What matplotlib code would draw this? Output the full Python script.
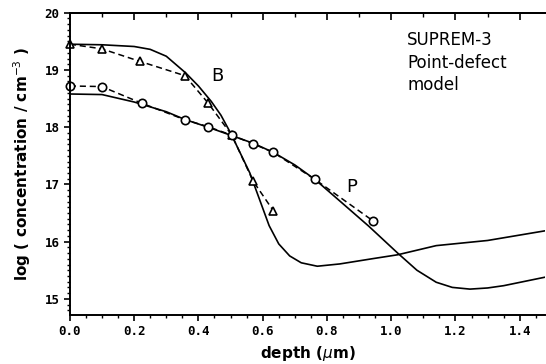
import numpy as np
import matplotlib.pyplot as plt
from matplotlib.ticker import MultipleLocator

# boron and phosphorus profiles (log concentration vs depth in um)
b_sim_x = [0.0, 0.1, 0.2, 0.25, 0.30, 0.36, 0.40, 0.44, 0.47, 0.50, 0.53, 0.56, 0.59, 0.62,
           0.65, 0.684, 0.72, 0.77, 0.84, 0.94, 1.02, 1.14, 1.30, 1.48]
b_sim_y = [19.45, 19.44, 19.41, 19.36, 19.24, 18.95, 18.72, 18.45, 18.21, 17.90, 17.55, 17.20,
           16.74, 16.28, 15.96, 15.75, 15.63, 15.57, 15.61, 15.70, 15.77, 15.93, 16.02, 16.19]
p_sim_x = [0.0, 0.1, 0.2, 0.3, 0.36, 0.43, 0.51, 0.57, 0.633, 0.70, 0.762, 0.84, 0.93,
           1.02, 1.08, 1.14, 1.19, 1.245, 1.30, 1.35, 1.48]
p_sim_y = [18.58, 18.57, 18.44, 18.27, 18.13, 18.00, 17.84, 17.72, 17.56, 17.34, 17.09, 16.71, 16.27,
           15.80, 15.50, 15.29, 15.20, 15.17, 15.19, 15.23, 15.38]

b_meas_x = [0.0, 0.099, 0.218, 0.358, 0.429, 0.504, 0.570, 0.633]
b_meas_y = [19.45, 19.37, 19.15, 18.90, 18.43, 17.86, 17.06, 16.54]
p_meas_x = [0.0, 0.099, 0.223, 0.358, 0.429, 0.504, 0.570, 0.633, 0.762, 0.944]
p_meas_y = [18.72, 18.71, 18.42, 18.13, 18.01, 17.86, 17.71, 17.56, 17.09, 16.36]

fig = plt.figure(figsize=(5.46, 3.64), dpi=100)
ax = fig.add_axes([0.128, 0.135, 0.871, 0.83])

ax.plot(b_sim_x, b_sim_y, color='black', lw=1.2)
ax.plot(p_sim_x, p_sim_y, color='black', lw=1.2)
ax.plot(b_meas_x, b_meas_y, color='black', lw=1.1, ls=(0, (4, 2.5)),
        marker='^', ms=6, mfc='white', mec='black', mew=1.2, clip_on=False)
ax.plot(p_meas_x, p_meas_y, color='black', lw=1.1, ls=(0, (4, 2.5)),
        marker='o', ms=6, mfc='white', mec='black', mew=1.2, clip_on=False)

ax.text(0.44, 18.80, 'B', fontsize=13)
ax.text(0.86, 16.86, 'P', fontsize=13)
ax.text(1.05, 19.13, 'SUPREM-3\nPoint-defect\nmodel', fontsize=12,
        va='center', ha='left', linespacing=1.35)

ax.set_xlim(0.0, 1.48)
ax.set_ylim(14.72, 20.0)
ax.yaxis.set_major_locator(MultipleLocator(1))
ax.yaxis.set_minor_locator(MultipleLocator(0.1))
ax.xaxis.set_minor_locator(MultipleLocator(0.05))
ax.set_xticks(np.arange(0, 1.41, 0.2))
ax.set_xticklabels(['%.1f' % v for v in np.arange(0, 1.41, 0.2)])
ax.tick_params(axis='both', which='major', direction='out', length=4, width=1.2, labelsize=9)
ax.tick_params(axis='both', which='minor', direction='out', length=2, width=1)
for lab in ax.get_xticklabels() + ax.get_yticklabels():
    lab.set_family('DejaVu Sans Mono')
    lab.set_fontweight('bold')

# top ticks point inward
top = ax.secondary_xaxis('top')
top.set_xticks(np.arange(0, 1.41, 0.2))
top.xaxis.set_minor_locator(MultipleLocator(0.1))
top.tick_params(which='major', direction='in', length=5, width=1.2, labeltop=False)
top.tick_params(which='minor', direction='in', length=3, width=1)
top.spines['top'].set_linewidth(1.4)

ax.spines['right'].set_visible(False)
for s in ['left', 'bottom', 'top']:
    ax.spines[s].set_linewidth(1.4)

ax.set_xlabel(r'depth ($\mu$m)', fontsize=11, fontweight='bold', labelpad=4)
ax.set_ylabel(r'log ( concentration / cm$^{-3}$ )', fontsize=11, fontweight='bold', labelpad=8)

fig.savefig('out.png', dpi=100)
